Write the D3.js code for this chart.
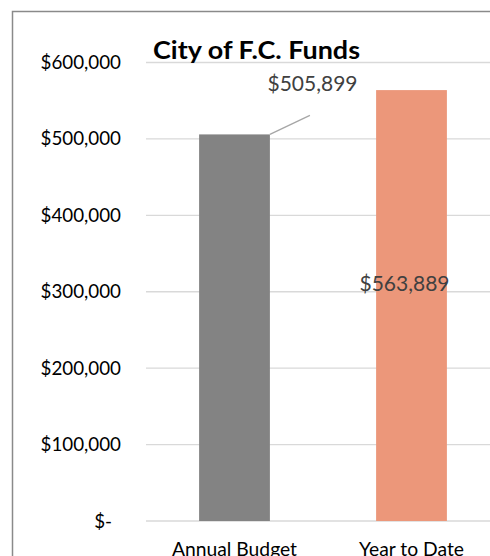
<!DOCTYPE html>
<html><head><meta charset="utf-8">
<script src="https://cdn.jsdelivr.net/npm/d3@7"></script>
<style>html,body{margin:0;padding:0;background:#fff;}svg{display:block;}</style>
</head><body>
<svg id="chart" width="490" height="556"></svg>
<script>
const categories = ["Annual Budget", "Year to Date"];
const values = [505899, 563889];
const valueLabels = ["$505,899", "$563,889"];
const tickValues = [0, 100000, 200000, 300000, 400000, 500000, 600000];
const tickLabels = ["$-", "$100,000", "$200,000", "$300,000", "$400,000", "$500,000", "$600,000"];
const colors = ["#838383", "#ec977a"];
const title = "City of F.C. Funds";

const svg = d3.select("#chart");
const font = "Lato, 'Open Sans', sans-serif";

// outer border
svg.append("rect").attr("x", 12.5).attr("y", 11.5).attr("width", 500).attr("height", 600)
  .attr("fill", "none").attr("stroke", "#8a8a8a").attr("stroke-width", 1.5);

const y = d3.scaleLinear().domain([0, 600000]).range([521, 62.5]);
const x = d3.scaleBand().domain(categories).range([146, 500]).padding(0);
const barW = x.bandwidth() * 0.4;

// gridlines
svg.append("g").selectAll("line").data(tickValues).join("line")
  .attr("x1", 146).attr("x2", 490)
  .attr("y1", d => y(d)).attr("y2", d => y(d))
  .attr("stroke", "#d9d9d9").attr("stroke-width", 1.3);

// y labels
svg.append("g").selectAll("text").data(tickValues).join("text")
  .attr("x", (d, i) => d === 0 ? 112 : 121)
  .attr("y", d => y(d)).attr("dy", "0.35em")
  .attr("text-anchor", "end")
  .attr("font-family", font).attr("font-size", 18.8).attr("fill", "#000")
  .text((d, i) => tickLabels[i]);

// bars
svg.append("g").selectAll("rect").data(values).join("rect")
  .attr("x", (d, i) => x(categories[i]) + (x.bandwidth() - barW) / 2)
  .attr("width", barW)
  .attr("y", d => y(d))
  .attr("height", d => y(0) - y(d))
  .attr("fill", (d, i) => colors[i]);

// x labels
svg.append("g").selectAll("text").data(categories).join("text")
  .attr("x", d => x(d) + x.bandwidth() / 2)
  .attr("y", 555.5)
  .attr("text-anchor", "middle")
  .attr("font-family", font).attr("font-size", 19.3).attr("fill", "#000")
  .text(d => d);

// leader line for first label
const b0x = x(categories[0]) + (x.bandwidth() + barW) / 2;
svg.append("line")
  .attr("x1", b0x).attr("y1", y(values[0]))
  .attr("x2", b0x + 40).attr("y2", y(values[0]) - 19)
  .attr("stroke", "#a6a6a6").attr("stroke-width", 1.3);

// data labels
svg.append("text").attr("x", 312.5).attr("y", 90.5)
  .attr("text-anchor", "middle")
  .attr("font-family", font).attr("font-size", 21).attr("fill", "#404040")
  .text(valueLabels[0]);
svg.append("text").attr("x", 404.5).attr("y", 290.5)
  .attr("text-anchor", "middle")
  .attr("font-family", font).attr("font-size", 21).attr("fill", "#404040")
  .text(valueLabels[1]);

// title
svg.append("text").attr("x", 153).attr("y", 58.5)
  .attr("font-family", font).attr("font-size", 25).attr("font-weight", "bold").attr("fill", "#000")
  .attr("textLength", 207).attr("lengthAdjust", "spacingAndGlyphs")
  .text(title);
</script>
</body></html>
